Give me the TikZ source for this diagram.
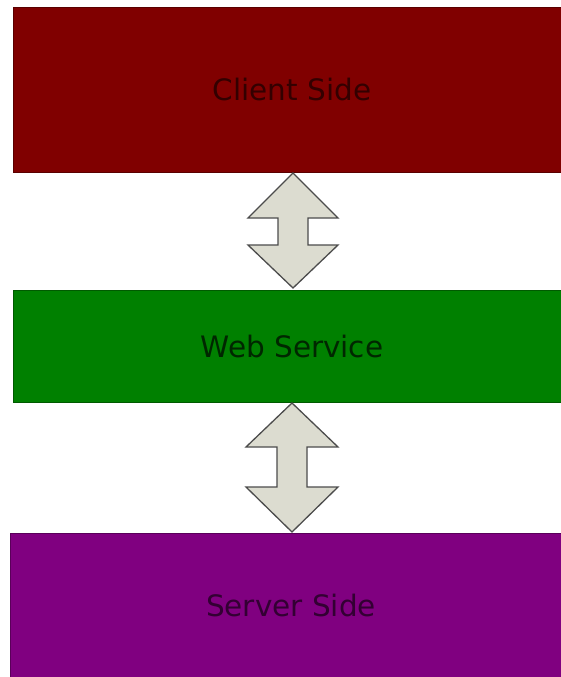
\documentclass[tikz,border=0pt]{standalone}
\usepackage{fontspec}
\setmainfont{DejaVu Sans}
\begin{document}
\begin{tikzpicture}[x=1pt,y=-1pt,
  layer/.style={draw=#1!70!black, line width=1pt},
  label/.style={inner sep=0pt, font=\fontsize{29.5}{34}\selectfont},
  dblarr/.style={draw=black!70, fill=arrowfill, line width=1.3pt, line join=miter}]
\definecolor{arrowfill}{HTML}{DCDCD0}
\definecolor{clientred}{HTML}{800000}
\definecolor{webgreen}{HTML}{008000}
\definecolor{serverpurple}{HTML}{800080}
\useasboundingbox (0,0) rectangle (560,677);
\fill[white] (0,0) rectangle (560,677);
% boxes
\draw[layer=clientred, fill=clientred] (13,8) rectangle (562,172);
\node[label, text=clientred!40!black] (client) at (292,90) {Client Side};
\draw[layer=webgreen, fill=webgreen] (13,290) rectangle (562,402);
\node[label, text=webgreen!30!black] (web) at (292,346) {Web Service};
\draw[layer=serverpurple, fill=serverpurple] (10,533) rectangle (562,680);
\node[label, text=serverpurple!40!black] (server) at (291,605) {Server Side};
% arrow endpoints
\coordinate (a1t) at (293,173);
\coordinate (a2t) at (292,403);
% double arrows
\draw[dblarr] (a1t) -- ++(45,45) -- ++(-30,0) -- ++(0,27) -- ++(30,0) -- ++(-45,43)
  -- ++(-45,-43) -- ++(30,0) -- ++(0,-27) -- ++(-30,0) -- cycle;
\draw[dblarr] (a2t) -- ++(46,44) -- ++(-31,0) -- ++(0,40) -- ++(31,0) -- ++(-46,45)
  -- ++(-46,-45) -- ++(31,0) -- ++(0,-40) -- ++(-31,0) -- cycle;
\end{tikzpicture}
\end{document}
